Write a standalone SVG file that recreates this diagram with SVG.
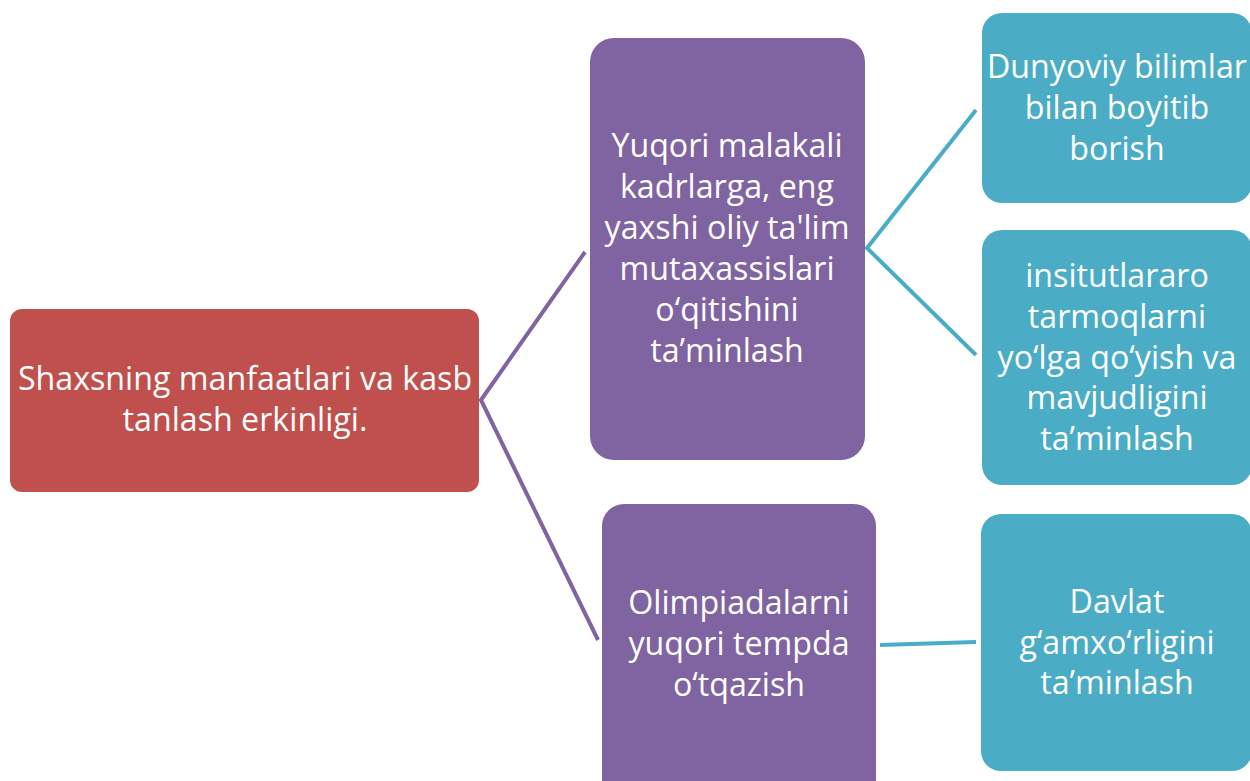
<svg xmlns="http://www.w3.org/2000/svg" width="1250" height="781" viewBox="0 0 1250 781">
<style>
.t{font-family:"Open Sans","Liberation Sans",sans-serif;font-size:32.2px;fill:#FFFFFF;text-anchor:middle}
.red{fill:#C0504D}
.pur{fill:#8064A2}
.teal{fill:#4BACC6}
.cp{stroke:#8064A2;stroke-width:4;fill:none;stroke-linejoin:round}
.ct{stroke:#4BACC6;stroke-width:4;fill:none;stroke-linejoin:round}
</style>
<rect width="1250" height="781" fill="#FFFFFF"/>
<g id="connectors">
<polyline class="cp" points="585,252 481,400 598,640"/>
<polyline class="ct" points="976,110 867,248 976,355"/>
<line class="ct" x1="880" y1="645" x2="976" y2="642"/>
</g>
<g id="node-root">
<rect class="red" x="10" y="309" width="469" height="183" rx="12"/>
<text class="t" x="245" y="390">Shaxsning manfaatlari va kasb</text>
<text class="t" x="245" y="431">tanlash erkinligi.</text>
</g>
<g id="node-yuqori">
<rect class="pur" x="590" y="38" width="275" height="422" rx="24"/>
<text class="t" x="727" y="157">Yuqori malakali</text>
<text class="t" x="727" y="198">kadrlarga, eng</text>
<text class="t" x="727" y="239">yaxshi oliy ta'lim</text>
<text class="t" x="727" y="280">mutaxassislari</text>
<text class="t" x="727" y="321">o‘qitishini</text>
<text class="t" x="727" y="362">ta’minlash</text>
</g>
<g id="node-olimpiada">
<rect class="pur" x="602" y="504" width="274" height="300" rx="22"/>
<text class="t" x="739" y="614">Olimpiadalarni</text>
<text class="t" x="739" y="655">yuqori tempda</text>
<text class="t" x="739" y="696">o‘tqazish</text>
</g>
<g id="node-dunyoviy">
<rect class="teal" x="982" y="13" width="270" height="190" rx="20"/>
<text class="t" x="1117" y="78">Dunyoviy bilimlar</text>
<text class="t" x="1117" y="119">bilan boyitib</text>
<text class="t" x="1117" y="160">borish</text>
</g>
<g id="node-insitut">
<rect class="teal" x="982" y="230" width="270" height="255" rx="20"/>
<text class="t" x="1117" y="287">insitutlararo</text>
<text class="t" x="1117" y="328">tarmoqlarni</text>
<text class="t" x="1117" y="369">yo‘lga qo‘yish va</text>
<text class="t" x="1117" y="409">mavjudligini</text>
<text class="t" x="1117" y="450">ta’minlash</text>
</g>
<g id="node-davlat">
<rect class="teal" x="981" y="514" width="271" height="257" rx="20"/>
<text class="t" x="1117" y="613">Davlat</text>
<text class="t" x="1117" y="654">g‘amxo‘rligini</text>
<text class="t" x="1117" y="694">ta’minlash</text>
</g>
</svg>
